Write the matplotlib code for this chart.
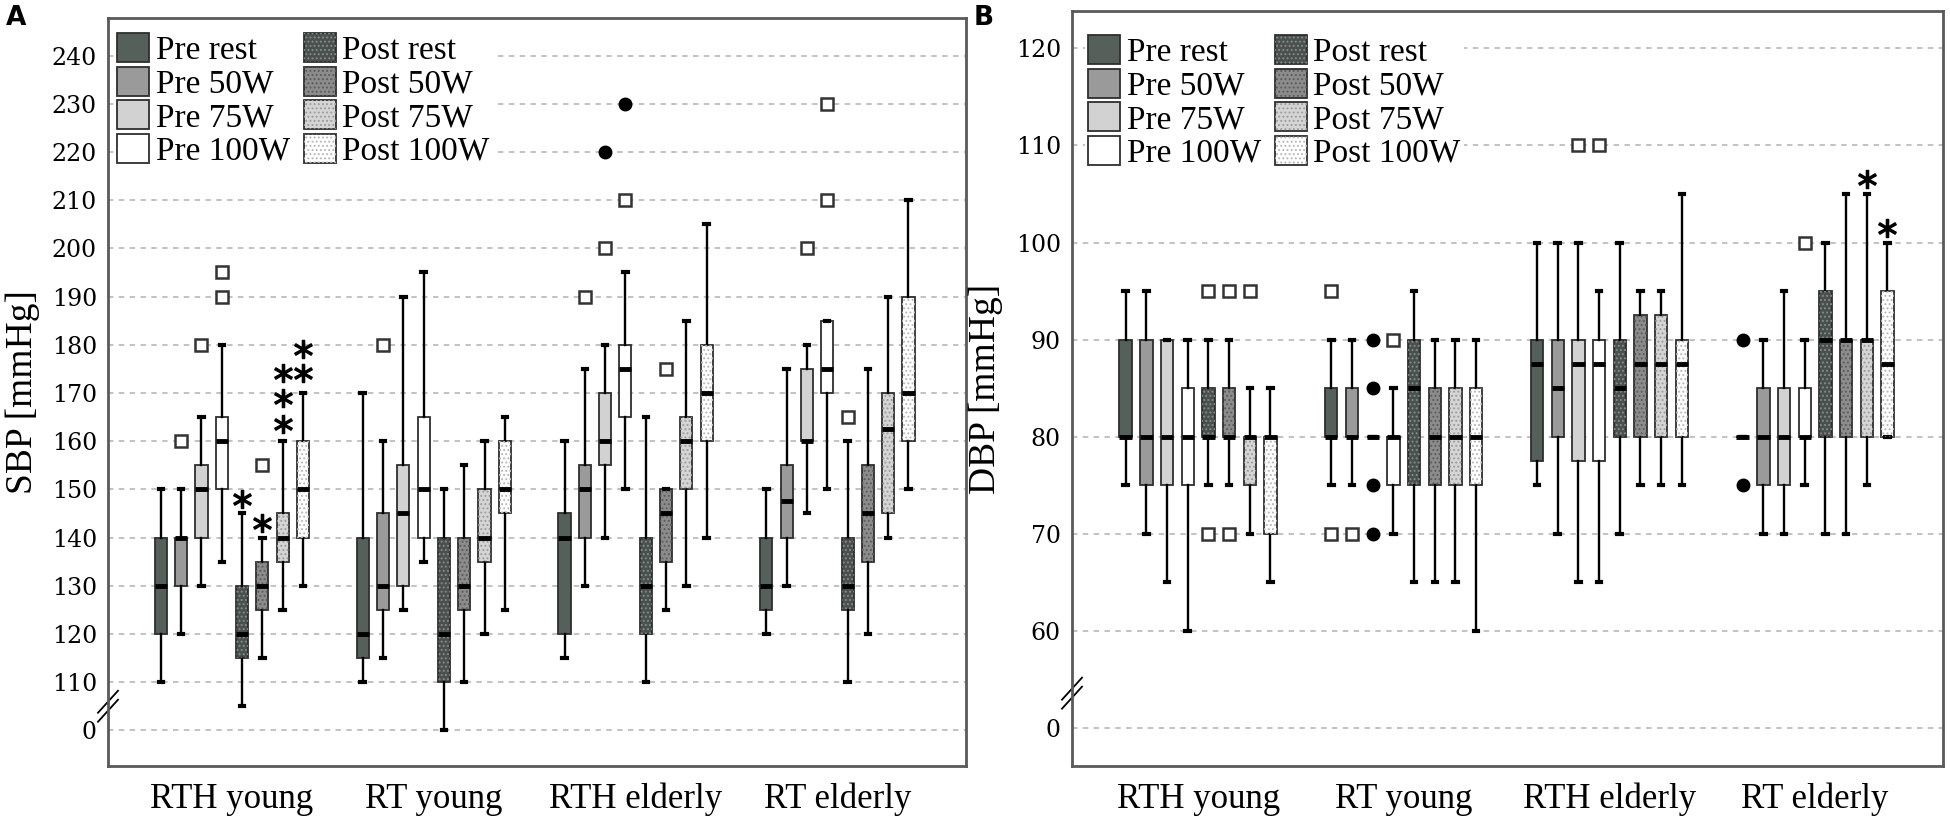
import numpy as np
import matplotlib
matplotlib.use("Agg")
import matplotlib.pyplot as plt
from matplotlib.patches import Patch, PathPatch
from matplotlib.legend_handler import HandlerTuple

# ---- data ----
groups = ["RTH young", "RT young", "RTH elderly", "RT elderly"]
conditions = ["Pre rest", "Pre 50W", "Pre 75W", "Pre 100W",
              "Post rest", "Post 50W", "Post 75W", "Post 100W"]

# each row: (low whisker, q1, median, q3, high whisker) in mmHg
# SBP axis is broken: the "0" label sits at 100
sbp_rth_young = [(110, 120, 130, 140, 150), (120, 130, 140, 140, 150),
                 (130, 140, 150, 155, 165), (135, 150, 160, 165, 180),
                 (105, 115, 120, 130, 145), (115, 125, 130, 135, 140),
                 (125, 135, 140, 145, 160), (130, 140, 150, 160, 170)]
sbp_rt_young = [(110, 115, 120, 140, 170), (115, 125, 130, 145, 160),
                (125, 130, 145, 155, 190), (135, 140, 150, 165, 195),
                (100, 110, 120, 140, 150), (110, 125, 130, 140, 155),
                (120, 135, 140, 150, 160), (125, 145, 150, 160, 165)]
sbp_rth_elderly = [(115, 120, 140, 145, 160), (130, 140, 150, 155, 175),
                   (140, 155, 160, 170, 180), (150, 165, 175, 180, 195),
                   (110, 120, 130, 140, 165), (125, 135, 145, 150, 150),
                   (130, 150, 160, 165, 185), (140, 160, 170, 180, 205)]
sbp_rt_elderly = [(120, 125, 130, 140, 150), (130, 140, 147.5, 155, 175),
                  (145, 160, 160, 175, 180), (150, 170, 175, 185, 185),
                  (110, 125, 130, 140, 160), (120, 135, 145, 155, 175),
                  (140, 145, 162.5, 170, 190), (150, 160, 170, 190, 210)]

# DBP axis is broken: the "0" label sits at 50
dbp_rth_young = [(75, 80, 80, 90, 95), (70, 75, 80, 90, 95),
                 (65, 75, 80, 90, 90), (60, 75, 80, 85, 90),
                 (75, 80, 80, 85, 90), (75, 80, 80, 85, 90),
                 (70, 75, 80, 80, 85), (65, 70, 80, 80, 85)]
dbp_rt_young = [(75, 80, 80, 85, 90), (75, 80, 80, 85, 90),
                (80, 80, 80, 80, 80), (70, 75, 80, 80, 85),
                (65, 75, 85, 90, 95), (65, 75, 80, 85, 90),
                (65, 75, 80, 85, 90), (60, 75, 80, 85, 90)]
dbp_rth_elderly = [(75, 77.5, 87.5, 90, 100), (70, 80, 85, 90, 100),
                   (65, 77.5, 87.5, 90, 100), (65, 77.5, 87.5, 90, 95),
                   (70, 80, 85, 90, 100), (75, 80, 87.5, 92.5, 95),
                   (75, 80, 87.5, 92.5, 95), (75, 80, 87.5, 90, 105)]
dbp_rt_elderly = [(80, 80, 80, 80, 80), (70, 75, 80, 85, 90),
                  (70, 75, 80, 85, 95), (75, 80, 80, 85, 90),
                  (70, 80, 90, 95, 100), (70, 80, 90, 90, 105),
                  (75, 80, 90, 90, 105), (80, 80, 87.5, 95, 100)]

# (group index, condition index, value)
sbp_outliers = [(0, 1, 160), (0, 2, 180), (0, 3, 190), (0, 3, 195), (0, 5, 155),
                (1, 1, 180), (2, 1, 190), (2, 2, 200), (2, 3, 210), (2, 5, 175),
                (3, 2, 200), (3, 3, 210), (3, 3, 230), (3, 4, 165)]
sbp_extremes = [(2, 2, 220), (2, 3, 230)]
sbp_stars = [(0, 4, 148), (0, 5, 143), (0, 6, 163.5), (0, 6, 169), (0, 6, 174.2),
             (0, 7, 174.2), (0, 7, 179.2)]

dbp_outliers = [(0, 4, 95), (0, 4, 70), (0, 5, 95), (0, 5, 70), (0, 6, 95),
                (1, 0, 95), (1, 0, 70), (1, 1, 70), (1, 3, 90),
                (2, 2, 110), (2, 3, 110), (3, 3, 100)]
dbp_extremes = [(1, 2, 90), (1, 2, 85), (1, 2, 75), (1, 2, 70), (3, 0, 90), (3, 0, 75)]
dbp_stars = [(3, 6, 106.6), (3, 7, 101.5)]

sbp_ticks = [100, 110, 120, 130, 140, 150, 160, 170, 180, 190, 200, 210, 220, 230, 240]
sbp_ticklabels = ["0"] + [str(t) for t in sbp_ticks[1:]]
dbp_ticks = [50, 60, 70, 80, 90, 100, 110, 120]
dbp_ticklabels = ["0"] + [str(t) for t in dbp_ticks[1:]]

# ---- styles ----
face = ["#55605b", "#9a9a9a", "#d2d2d2", "#ffffff",
        "#4a504d", "#8c8c8c", "#d5d5d5", "#ffffff"]
hatch_col = [None, None, None, None, "#858b88", "#5c5c5c", "#9c9c9c", "#b8b8b8"]
edge = "#2e2e2e"
serif = "Liberation Serif"

plt.rcParams["hatch.linewidth"] = 0.9

fig = plt.figure(figsize=(19.5, 8.24), dpi=100)
axA = fig.add_axes([108 / 1950, 58 / 824, 858 / 1950, 748 / 824])
axB = fig.add_axes([1072 / 1950, 58 / 824, 871 / 1950, 755 / 824])

offsets = (np.arange(8) - 3.5) * 0.1006


def draw_panel(ax, data, outliers, extremes, stars, ticks, ticklabels,
               ylim, xlim, ylabel, break_y, legend_anchor):
    for g, stats in enumerate(data):
        bstats = [dict(whislo=lo, q1=q1, med=med, q3=q3, whishi=hi, fliers=[])
                  for lo, q1, med, q3, hi in stats]
        art = ax.bxp(bstats, positions=g + offsets, widths=0.06, capwidths=0.022,
                     patch_artist=True, showfliers=False, manage_ticks=False,
                     boxprops=dict(edgecolor=edge, linewidth=1.3),
                     whiskerprops=dict(color="black", linewidth=1.7),
                     capprops=dict(color="black", linewidth=3),
                     medianprops=dict(color="black", linewidth=3.5))
        for i, box in enumerate(art["boxes"]):
            box.set_facecolor(face[i])
            box.set_zorder(2)
            if hatch_col[i]:
                ax.add_patch(PathPatch(box.get_path(), facecolor="none",
                                       edgecolor=hatch_col[i], linewidth=0,
                                       hatch="....", zorder=2.05))
        for m in art["medians"]:
            m.set_zorder(3)

    xs = [g + offsets[c] for g, c, v in outliers]
    ax.plot(xs, [v for g, c, v in outliers], "s", ms=8, mfc="white",
            mec="#333333", mew=1.8, zorder=4)
    xs = [g + offsets[c] for g, c, v in extremes]
    ax.plot(xs, [v for g, c, v in extremes], "o", ms=9, color="black", zorder=4)
    xs = [g + offsets[c] for g, c, v in stars]
    ax.plot(xs, [v for g, c, v in stars], ls="none", marker="$*$", ms=13,
            color="black", zorder=4)

    ax.set_xlim(*xlim)
    ax.set_ylim(*ylim)
    ax.set_yticks(ticks)
    ax.set_yticklabels(ticklabels, fontfamily="DejaVu Serif", fontsize=17)
    ax.set_xticks(range(len(groups)))
    ax.set_xticklabels(groups, fontfamily=serif, fontsize=25)
    ax.tick_params(axis="both", length=0)
    ax.tick_params(axis="x", pad=12)
    ax.tick_params(axis="y", pad=8)
    ax.set_axisbelow(True)
    ax.yaxis.grid(True, color="#bdbdbd", linewidth=1.3, linestyle=(0, (3, 3)))
    for s in ax.spines.values():
        s.set_color("#5a5a5a")
        s.set_linewidth(2)
    ax.set_ylabel(ylabel, fontfamily=serif, fontsize=27)
    ax.yaxis.set_label_coords(-0.079, 0.5)

    # axis break marks
    bf = (break_y - ylim[0]) / (ylim[1] - ylim[0])
    w = ax.get_position().width * 1950
    h = ax.get_position().height * 824
    for d in (-4.5, 4.5):
        ax.plot([-10 / w, 10 / w], [bf + (d - 11) / h, bf + (d + 11) / h],
                transform=ax.transAxes, color="black", lw=1.3, clip_on=False)

    handles = []
    for i in range(8):
        base = Patch(facecolor=face[i], edgecolor=edge, linewidth=1.3)
        if hatch_col[i]:
            handles.append((base, Patch(facecolor="none", edgecolor=hatch_col[i],
                                        linewidth=0, hatch="....")))
        else:
            handles.append(base)
    ax.legend(handles, conditions, ncol=2, loc="upper left",
              bbox_to_anchor=legend_anchor, prop=dict(family=serif, size=24),
              handlelength=0.95, handleheight=0.95, handletextpad=0.2,
              labelspacing=0.02, columnspacing=0.42, borderpad=0.1,
              borderaxespad=0, frameon=True, fancybox=False, edgecolor="none",
              facecolor="white", framealpha=1,
              handler_map={tuple: HandlerTuple(ndivide=1)})


draw_panel(axA, [sbp_rth_young, sbp_rt_young, sbp_rth_elderly, sbp_rt_elderly],
           sbp_outliers, sbp_extremes, sbp_stars, sbp_ticks, sbp_ticklabels,
           (92.6, 247.8), (-0.614, 3.637), "SBP [mmHg]", 105, (0.007, 0.984))
draw_panel(axB, [dbp_rth_young, dbp_rt_young, dbp_rth_elderly, dbp_rt_elderly],
           dbp_outliers, dbp_extremes, dbp_stars, dbp_ticks, dbp_ticklabels,
           (46.1, 123.85), (-0.613, 3.622), "DBP [mmHg]", 53.6, (0.015, 0.972))

fig.text(6 / 1950, 1 - 5 / 824, "A", fontsize=19, fontweight="bold",
         family="DejaVu Sans", ha="left", va="top")
fig.text(974 / 1950, 1 - 5 / 824, "B", fontsize=19, fontweight="bold",
         family="DejaVu Sans", ha="left", va="top")

fig.savefig("out.png", dpi=100)
